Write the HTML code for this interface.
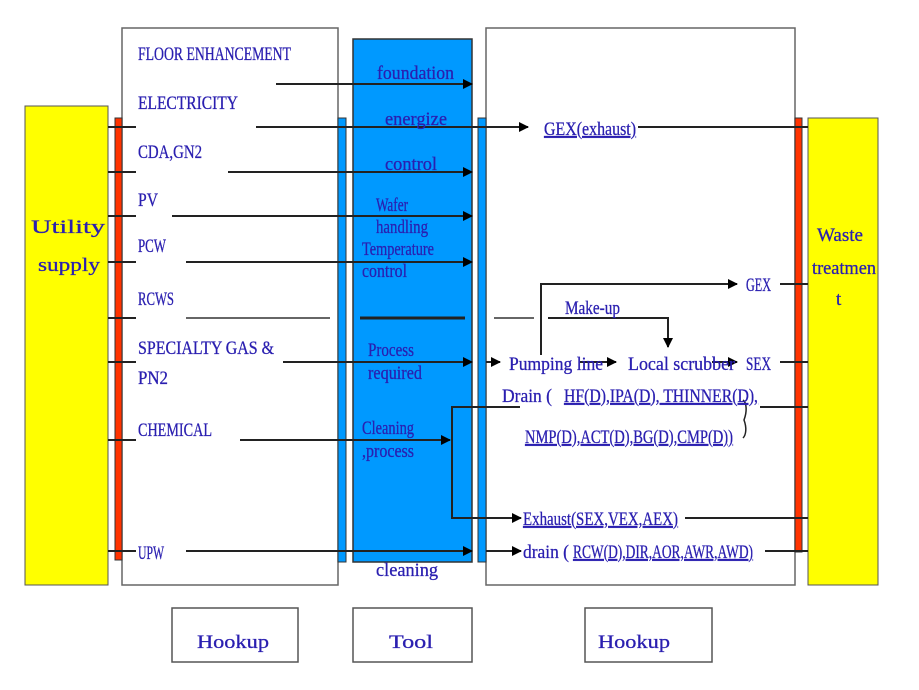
<!DOCTYPE html>
<html><head><meta charset="utf-8"><style>
html,body{margin:0;padding:0;background:#fff;width:919px;height:690px;overflow:hidden}
text{font-family:"Liberation Serif",serif;fill:#2a1fb0;font-size:19px;stroke:#2a1fb0;stroke-width:0.3}
</style></head><body>
<svg width="919" height="690" viewBox="0 0 919 690" xmlns="http://www.w3.org/2000/svg">
<defs><marker id="a" markerWidth="10" markerHeight="10" refX="9" refY="5" orient="auto" markerUnits="userSpaceOnUse"><path d="M0,0 L10,5 L0,10 z" fill="#000"/></marker></defs>
<rect x="25" y="106" width="83" height="479" fill="#ffff00" stroke="#555" stroke-width="1"/>
<rect x="122" y="28" width="216" height="557" fill="#fff" stroke="#666" stroke-width="1.5"/>
<rect x="486" y="28" width="309" height="557" fill="#fff" stroke="#666" stroke-width="1.5"/>
<rect x="808" y="118" width="70" height="467" fill="#ffff00" stroke="#555" stroke-width="1"/>
<rect x="353" y="39" width="119" height="523" fill="#0099ff" stroke="#333" stroke-width="1.5"/>
<rect x="115" y="118" width="7" height="442" fill="#ff3300" stroke="#333" stroke-width="1"/>
<rect x="795" y="118" width="7" height="434" fill="#ff3300" stroke="#333" stroke-width="1"/>
<rect x="338" y="118" width="8" height="444" fill="#0099ff" stroke="#333" stroke-width="1"/>
<rect x="478" y="118" width="8" height="444" fill="#0099ff" stroke="#333" stroke-width="1"/>
<rect x="172" y="608" width="126" height="54" fill="#fff" stroke="#555" stroke-width="1.5"/>
<rect x="353" y="608" width="119" height="54" fill="#fff" stroke="#555" stroke-width="1.5"/>
<rect x="585" y="608" width="127" height="54" fill="#fff" stroke="#555" stroke-width="1.5"/>
<g stroke="#222" stroke-width="2" fill="none">
<line x1="276" y1="84" x2="472" y2="84" marker-end="url(#a)"/>
<line x1="108" y1="127" x2="136" y2="127"/>
<line x1="256" y1="127" x2="528" y2="127" marker-end="url(#a)"/>
<line x1="638" y1="127" x2="808" y2="127"/>
<line x1="108" y1="172" x2="136" y2="172"/>
<line x1="228" y1="172" x2="472" y2="172" marker-end="url(#a)"/>
<line x1="108" y1="216" x2="136" y2="216"/>
<line x1="172" y1="216" x2="472" y2="216" marker-end="url(#a)"/>
<line x1="108" y1="262" x2="136" y2="262"/>
<line x1="186" y1="262" x2="472" y2="262" marker-end="url(#a)"/>
<line x1="108" y1="318" x2="136" y2="318"/>
<line x1="186" y1="318" x2="330" y2="318" stroke="#666"/>
<line x1="360" y1="318" x2="465" y2="318" stroke-width="3"/>
<line x1="494" y1="318" x2="534" y2="318" stroke="#666"/>
<path d="M548,318 H668 V347" marker-end="url(#a)"/>
<line x1="108" y1="362" x2="136" y2="362"/>
<line x1="283" y1="362" x2="472" y2="362" marker-end="url(#a)"/>
<line x1="486" y1="362" x2="500" y2="362" marker-end="url(#a)"/>
<path d="M541,355 V284 H737" marker-end="url(#a)"/>
<line x1="580" y1="362" x2="616" y2="362" marker-end="url(#a)"/>
<line x1="712" y1="362" x2="737" y2="362" marker-end="url(#a)"/>
<line x1="780" y1="284" x2="808" y2="284"/>
<line x1="780" y1="362" x2="808" y2="362"/>
<line x1="108" y1="440" x2="136" y2="440"/>
<line x1="240" y1="440" x2="450" y2="440" marker-end="url(#a)"/>
<path d="M508,407 H452 V518 H521" marker-end="url(#a)"/>
<line x1="486" y1="407" x2="520" y2="407"/>
<line x1="760" y1="407" x2="808" y2="407"/>
<path d="M743,400 C747,403 747,412 744,420 C747,428 746,435 743,438" stroke-width="1.5"/>
<line x1="685" y1="518" x2="808" y2="518"/>
<line x1="108" y1="551" x2="136" y2="551"/>
<line x1="186" y1="551" x2="472" y2="551" marker-end="url(#a)"/>
<line x1="486" y1="551" x2="521" y2="551" marker-end="url(#a)"/>
<line x1="765" y1="551" x2="808" y2="551"/>
</g>
<text x="138" y="60" textLength="153" lengthAdjust="spacingAndGlyphs">FLOOR ENHANCEMENT</text>
<text x="138" y="109" textLength="100" lengthAdjust="spacingAndGlyphs">ELECTRICITY</text>
<text x="138" y="158" textLength="64" lengthAdjust="spacingAndGlyphs">CDA,GN2</text>
<text x="138" y="206" textLength="20" lengthAdjust="spacingAndGlyphs">PV</text>
<text x="138" y="252" textLength="28" lengthAdjust="spacingAndGlyphs">PCW</text>
<text x="138" y="305" textLength="36" lengthAdjust="spacingAndGlyphs">RCWS</text>
<text x="138" y="354" textLength="136" lengthAdjust="spacingAndGlyphs">SPECIALTY GAS &amp;</text>
<text x="138" y="384" textLength="30" lengthAdjust="spacingAndGlyphs">PN2</text>
<text x="138" y="436" textLength="74" lengthAdjust="spacingAndGlyphs">CHEMICAL</text>
<text x="138" y="559" textLength="26" lengthAdjust="spacingAndGlyphs">UPW</text>
<text x="377" y="79" textLength="77" lengthAdjust="spacingAndGlyphs">foundation</text>
<text x="385" y="125" textLength="62" lengthAdjust="spacingAndGlyphs">energize</text>
<text x="385" y="170" textLength="52" lengthAdjust="spacingAndGlyphs">control</text>
<text x="376" y="211" font-size="16" textLength="32" lengthAdjust="spacingAndGlyphs">Wafer</text>
<text x="376" y="233" font-size="16" textLength="52" lengthAdjust="spacingAndGlyphs">handling</text>
<text x="362" y="255" font-size="16" textLength="72" lengthAdjust="spacingAndGlyphs">Temperature</text>
<text x="362" y="277" font-size="16" textLength="45" lengthAdjust="spacingAndGlyphs">control</text>
<text x="368" y="356" font-size="16" textLength="46" lengthAdjust="spacingAndGlyphs">Process</text>
<text x="368" y="379" font-size="16" textLength="54" lengthAdjust="spacingAndGlyphs">required</text>
<text x="362" y="434" font-size="16" textLength="52" lengthAdjust="spacingAndGlyphs">Cleaning</text>
<text x="362" y="457" font-size="16" textLength="52" lengthAdjust="spacingAndGlyphs">,process</text>
<text x="376" y="576" font-size="16" textLength="62" lengthAdjust="spacingAndGlyphs">cleaning</text>
<text x="544" y="135" text-decoration="underline" textLength="92" lengthAdjust="spacingAndGlyphs">GEX(exhaust)</text>
<text x="746" y="291" textLength="25" lengthAdjust="spacingAndGlyphs">GEX</text>
<text x="565" y="314" textLength="55" lengthAdjust="spacingAndGlyphs">Make-up</text>
<text x="509" y="370" textLength="94" lengthAdjust="spacingAndGlyphs">Pumping line</text>
<text x="628" y="370" textLength="107" lengthAdjust="spacingAndGlyphs">Local scrubber</text>
<text x="746" y="370" textLength="25" lengthAdjust="spacingAndGlyphs">SEX</text>
<text x="502" y="402" textLength="50" lengthAdjust="spacingAndGlyphs">Drain (</text>
<text x="564" y="402" text-decoration="underline" textLength="194" lengthAdjust="spacingAndGlyphs">HF(D),IPA(D), THINNER(D),</text>
<text x="525" y="443" text-decoration="underline" textLength="208" lengthAdjust="spacingAndGlyphs">NMP(D),ACT(D),BG(D),CMP(D))</text>
<text x="523" y="525" text-decoration="underline" textLength="155" lengthAdjust="spacingAndGlyphs">Exhaust(SEX,VEX,AEX)</text>
<text x="523" y="558" textLength="46" lengthAdjust="spacingAndGlyphs">drain (</text>
<text x="573" y="558" text-decoration="underline" textLength="180" lengthAdjust="spacingAndGlyphs">RCW(D),DIR,AOR,AWR,AWD)</text>
<text x="31" y="233" font-size="24" textLength="74" lengthAdjust="spacingAndGlyphs">Utility</text>
<text x="38" y="271" font-size="24" textLength="62" lengthAdjust="spacingAndGlyphs">supply</text>
<text x="817" y="241" font-size="21" textLength="46" lengthAdjust="spacingAndGlyphs">Waste</text>
<text x="812" y="274" font-size="21" textLength="64" lengthAdjust="spacingAndGlyphs">treatmen</text>
<text x="836" y="305" font-size="21">t</text>
<text x="197" y="648" font-size="28" textLength="72" lengthAdjust="spacingAndGlyphs">Hookup</text>
<text x="389" y="648" font-size="28" textLength="44" lengthAdjust="spacingAndGlyphs">Tool</text>
<text x="598" y="648" font-size="28" textLength="72" lengthAdjust="spacingAndGlyphs">Hookup</text>
</svg>
</body></html>
